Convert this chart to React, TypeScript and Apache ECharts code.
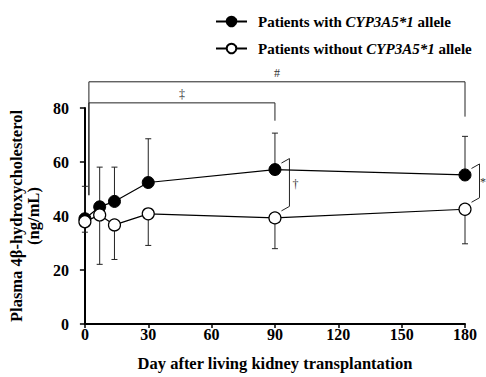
import React, { useEffect, useRef } from "react";
import * as echarts from "echarts";

const days = [0, 7, 14, 30, 90, 180];
const withMean = [39, 43.4, 45.4, 52.4, 57.2, 55.2];
const withUpper = [51, 58.1, 58.1, 68.6, 70.7, 69.5];
const withoutMean = [37.9, 40.4, 36.7, 40.8, 39.3, 42.5];
const withoutLower = [34, 22.1, 23.9, 29.1, 27.9, 29.7];
const xTicks = [0, 30, 60, 90, 120, 150, 180];
const yTicks = [0, 20, 40, 60, 80];

const bracketStart = [0, 0];
const bracketEnd = [180, 90];
const bracketLevel = [89.7, 81.9];
const bracketLeftEnd = [47.7, 47.7];
const bracketRightEnd = [76.8, 75.3];
const bracketLabel = ["#", "\u2021"];

const sideDays = [90, 180];
const sideLabel = ["\u2020", "*"];

const seriesNames = ["Patients with CYP3A5*1 allele", "Patients without CYP3A5*1 allele"];

const FONT = "'Liberation Serif', 'Times New Roman', serif";
const INK = "#000";
const GRAY = "#222";

export default function App() {
  const ref = useRef<HTMLDivElement>(null);
  useEffect(() => {
    if (!ref.current) return;
    const chart = echarts.init(ref.current, undefined, { renderer: "svg" });

    const errWith = days.map((d, i) => [d, withMean[i], withUpper[i]]);
    const errWithout = days.map((d, i) => [d, withoutMean[i], withoutLower[i]]);
    const errRender = (params: any, api: any) => {
      const x = api.value(0);
      const p0 = api.coord([x, api.value(1)]);
      const p1 = api.coord([x, api.value(2)]);
      return {
        type: "group",
        children: [
          { type: "line", shape: { x1: p0[0], y1: p0[1], x2: p1[0], y2: p1[1] }, style: { stroke: GRAY, lineWidth: 1 } },
          { type: "line", shape: { x1: p1[0] - 3, y1: p1[1], x2: p1[0] + 3, y2: p1[1] }, style: { stroke: GRAY, lineWidth: 1 } },
        ],
      };
    };

    const bracketData = bracketStart.map((s, i) => [s, bracketEnd[i], bracketLevel[i], bracketLeftEnd[i], bracketRightEnd[i], i]);
    const bracketRender = (params: any, api: any) => {
      const i = api.value(5);
      const a = api.coord([api.value(0), api.value(2)]);
      const b = api.coord([api.value(1), api.value(2)]);
      const la = api.coord([api.value(0), api.value(3)]);
      const rb = api.coord([api.value(1), api.value(4)]);
      const xl = a[0] + 4;
      return {
        type: "group",
        children: [
          {
            type: "polyline",
            shape: { points: [[xl, la[1]], [xl, a[1]], [b[0], b[1]], [b[0], rb[1]]] },
            style: { stroke: GRAY, lineWidth: 1, fill: "none" },
          },
          {
            type: "text",
            style: {
              text: bracketLabel[i],
              x: (xl + b[0]) / 2,
              y: a[1] - 3,
              align: "center",
              verticalAlign: "bottom",
              fill: "#333",
              font: `12px ${FONT}`,
            },
          },
        ],
      };
    };

    const sideData = sideDays.map((d, i) => [d, withMean[days.indexOf(d)], withoutMean[days.indexOf(d)], i]);
    const sideRender = (params: any, api: any) => {
      const i = api.value(3);
      const pt = api.coord([api.value(0), api.value(1)]);
      const pb = api.coord([api.value(0), api.value(2)]);
      const xv = pt[0] + 14.5;
      return {
        type: "group",
        children: [
          {
            type: "polyline",
            shape: {
              points: [
                [pt[0] + 6.5, pt[1] - 6.5],
                [xv, pt[1] - 11],
                [xv, pb[1] - 11.5],
                [pt[0] + 6.5, pb[1] - 7],
              ],
            },
            style: { stroke: GRAY, lineWidth: 1, fill: "none" },
          },
          {
            type: "text",
            style: {
              text: sideLabel[i],
              x: Math.min(xv + 3, 480),
              y: (pt[1] + pb[1]) / 2 - 10,
              align: "left",
              verticalAlign: "middle",
              fill: "#333",
              font: `12px ${FONT}`,
            },
          },
        ],
      };
    };

    const rich = {
      i: { fontStyle: "italic", fontWeight: "bold", fontFamily: FONT, fontSize: 15, color: INK },
    };

    chart.setOption({
      animation: false,
      textStyle: { fontFamily: FONT },
      legend: {
        orient: "vertical",
        left: 210,
        top: 9,
        itemWidth: 31,
        itemHeight: 12,
        itemGap: 12,
        data: seriesNames,
        formatter: (n: string) => n.replace("CYP3A5*1", "{i|CYP3A5*1}"),
        textStyle: { fontFamily: FONT, fontWeight: "bold", fontSize: 15, color: INK, padding: [0, 0, 0, 6], rich },
      },
      grid: { left: 83, right: 21, top: 108, bottom: 51, containLabel: false },
      xAxis: {
        type: "value",
        min: xTicks[0],
        max: xTicks[xTicks.length - 1],
        interval: xTicks[1] - xTicks[0],
        name: "Day after living kidney transplantation",
        nameLocation: "middle",
        nameGap: 31,
        nameTextStyle: { fontFamily: FONT, fontWeight: "bold", fontSize: 16.5, color: INK },
        axisLine: { lineStyle: { color: INK, width: 2 } },
        axisTick: { inside: false, length: 4, lineStyle: { color: INK, width: 1.5 } },
        axisLabel: { fontFamily: FONT, fontWeight: "bold", fontSize: 16, color: INK, margin: 2 },
        splitLine: { show: false },
      },
      yAxis: {
        type: "value",
        min: yTicks[0],
        max: yTicks[yTicks.length - 1],
        interval: yTicks[1] - yTicks[0],
        name: "Plasma 4\u03b2-hydroxycholesterol\n(ng/mL)",
        nameLocation: "middle",
        nameRotate: 90,
        nameGap: 40,
        nameTextStyle: { fontFamily: FONT, fontWeight: "bold", fontSize: 16.5, color: INK, lineHeight: 17 },
        axisLine: { show: true, lineStyle: { color: INK, width: 2 } },
        axisTick: { show: true, inside: false, length: 5, lineStyle: { color: INK, width: 1.5 } },
        axisLabel: { fontFamily: FONT, fontWeight: "bold", fontSize: 16, color: INK, margin: 16 },
        splitLine: { show: false },
      },
      series: [
        { type: "custom", name: "errWith", renderItem: errRender, data: errWith, z: 1, silent: true },
        { type: "custom", name: "errWithout", renderItem: errRender, data: errWithout, z: 1, silent: true },
        { type: "custom", name: "brackets", renderItem: bracketRender, data: bracketData, clip: false, z: 1, silent: true },
        { type: "custom", name: "sides", renderItem: sideRender, data: sideData, clip: false, z: 1, silent: true },
        {
          type: "line",
          name: seriesNames[0],
          data: days.map((d, i) => [d, withMean[i]]),
          symbol: "circle",
          symbolSize: 12,
          lineStyle: { color: INK, width: 1.2 },
          itemStyle: { color: INK, borderColor: INK, borderWidth: 1 },
          z: 3,
        },
        {
          type: "line",
          name: seriesNames[1],
          data: days.map((d, i) => [d, withoutMean[i]]),
          symbol: "circle",
          symbolSize: 12,
          lineStyle: { color: INK, width: 1.2 },
          itemStyle: { color: "#fff", borderColor: INK, borderWidth: 1.2 },
          z: 4,
        },
      ],
    });
    return () => chart.dispose();
  }, []);
  return <div ref={ref} style={{ width: 486, height: 377, position: "absolute", left: 0, top: 0 }} />;
}
